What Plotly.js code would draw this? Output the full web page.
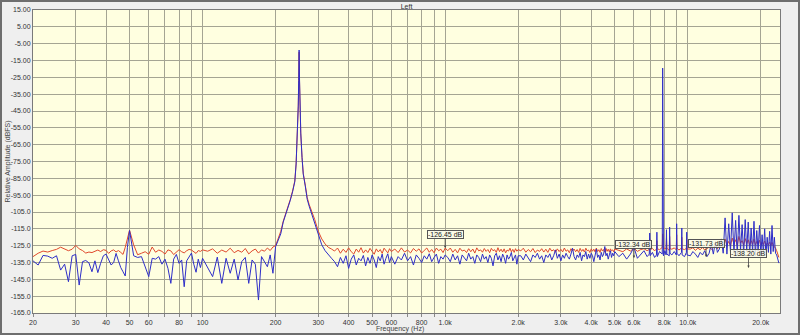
<!DOCTYPE html>
<html>
<head>
<meta charset="utf-8">
<script src="https://cdn.plot.ly/plotly-3.0.1.min.js"></script>
<style>
html,body{margin:0;padding:0;overflow:hidden;background:#efefef;}
#wrap{width:800px;height:335px;box-sizing:border-box;border:2px solid #6e6e6e;}
#chart{width:796px;height:331px;}
</style>
</head>
<body>
<div id="wrap"><div id="chart"></div></div>
<script>
// ---- Frequency grid (Hz), by band ----
const freqA = [20,21,22,23,24,25,26,27,28,29,30,31,32,33,34,35,36,37,38,39,40,41,42,43,44,45,46,47,48,49,50];
const freqB = [52,54,56,58,60,62,64,66,68,70,72,74,76,78,80,82,84,86,88,90,92,94,96,98,100];
const freqC = [105,110,115,120,125,130,135,140,145,150,155,160,165,170,175,180,185,190,195];
const freqD = [200,205,210,215,220,225,230,235,240,243,246,248,249,250,251,252,254,257,260,265,270,275,280,290,300,310,320,330,340];
const freqE = [350,360,370,380,390,400,410,420,430,440,450,460,470,480,490,500,510,520,530,540,550,560,570,580,590,600];
const freqF = [620,640,660,680,700,720,740,760,780,800,820,840,860,880,900,920,940,960,980,1000];
const freqG = [1025,1050,1075,1100,1125,1150,1175,1200,1225,1250,1275,1300,1325,1350,1375,1400,1425,1450,1475,1500,1525,1550,1575,1600,1625,1650,1675,1700,1725,1750,1775,1800,1825,1850,1875,1900,1925,1950,1975,2000];
const freqH = [2050,2100,2150,2200,2250,2300,2350,2400,2450,2500,2550,2600,2650,2700,2750,2800,2850,2900,2950,3000,3050,3100,3150,3200,3250,3300,3350,3400,3450,3500,3550,3600,3650,3700,3750,3800,3850,3900,3950,4000,4050,4100,4150,4200,4250,4300,4350,4400,4450,4500,4550,4600,4650,4700,4750,4800,4850,4900,4950,5000];
const freqI = [5200,5400,5600,5800,5950,6000,6200,6400,6600,6800,6940,6970,7000,7150,7300,7430,7460,7490,7650,7850,7880,7910,7940,8050,8140,8170,8200,8390,8420,8450,8600,8800,8970,9000,9030,9200,9420,9450,9480,9700,9870,9900,9930];
const freqJ = [10250,10500,10750,11000,11250,11500,11750,12000,12250,12500,12750,13000,13250,13500,13750,14000,14250,14500,14750,15000,15250,15500,15750,16000,16250,16500,16750,17000,17250,17500,17750,18000,18250,18500,18750,19000,19250,19500,19750,20000,20250,20500,20750,21000,21250,21500,21750,22000,22250,22500,22750,23000,23250,23500,23750];

// ---- Red trace (dBFS) ----
const redA = [-131.5,-129.5,-128.2,-128.8,-127.9,-127.2,-125.9,-126.8,-128.0,-127.1,-124.8,-126.9,-127.9,-129.4,-128.8,-129.1,-128.2,-127.6,-128.5,-127.4,-127.8,-129.6,-128.1,-127.5,-128.7,-127.9,-129.0,-130.2,-126.0,-120.5,-115.8];
const redB = [-124.5,-130.4,-129.5,-128.6,-130.1,-125.8,-128.9,-127.6,-128.4,-130.0,-127.5,-128.1,-130.3,-129.0,-127.4,-128.6,-129.3,-128.0,-127.2,-127.6,-128.8,-129.6,-127.9,-128.4,-127.5];
const redC = [-128.3,-126.9,-129.5,-127.6,-128.8,-126.5,-129.2,-127.8,-128.9,-126.7,-129.9,-128.1,-127.0,-129.4,-127.5,-128.3,-126.4,-127.9,-125.8];
const redD = [-125.0,-120.5,-116.5,-110.5,-106.5,-102.5,-97.5,-92.5,-86.5,-76.5,-60.5,-42.5,-28.5,-10.0,-27.5,-40.5,-58.5,-72.5,-82.0,-89.0,-96.5,-100.5,-103.5,-109.5,-116.5,-121.0,-124.0,-126.0,-127.0];
const redE = [-128.2,-126.4,-129.5,-127.1,-129.0,-126.3,-128.6,-130.0,-127.0,-128.9,-126.2,-129.4,-127.5,-129.1,-126.6,-128.4,-130.1,-126.9,-128.7,-127.3,-129.6,-126.5,-128.1,-129.3,-126.8,-128.5];
const redF = [-127.0,-129.1,-126.3,-128.8,-127.6,-129.3,-126.7,-128.3,-126.9,-129.4,-127.8,-126.4,-128.9,-127.3,-129.2,-126.4,-128.0,-127.1,-129.1,-126.4];
const redG = [-128.0,-126.4,-128.9,-127.2,-129.3,-126.5,-128.2,-127.6,-129.1,-126.8,-128.6,-127.0,-129.4,-126.3,-128.1,-127.5,-128.9,-126.7,-128.4,-127.3,-129.2,-126.6,-128.0,-127.4,-129.0,-126.2,-128.5,-127.1,-128.8,-126.9,-129.3,-127.6,-128.2,-126.5,-128.7,-127.2,-129.0,-126.8,-128.3,-127.3];
const redH = [-128.1,-126.5,-128.9,-127.3,-128.6,-126.7,-129.1,-127.6,-128.4,-126.8,-128.8,-127.1,-129.0,-126.5,-128.2,-127.4,-128.9,-126.9,-128.5,-127.2,-128.7,-126.4,-128.3,-127.5,-129.2,-126.8,-128.1,-127.0,-128.6,-127.3,-129.0,-126.6,-128.4,-127.2,-128.8,-126.5,-128.0,-127.6,-129.1,-126.9,-128.3,-127.1,-128.7,-126.4,-128.5,-127.4,-129.0,-126.7,-128.2,-127.3,-128.9,-126.6,-128.4,-127.1,-128.7,-126.9,-128.1,-127.5,-128.6,-127.0];
const redI = [-127.8,-128.6,-126.9,-128.2,-127.0,-126.5,-128.4,-127.3,-126.8,-128.0,-127.2,-121.0,-127.5,-126.6,-128.1,-127.0,-122.0,-126.8,-127.4,-126.0,-118.0,-125.5,-127.0,-126.4,-127.2,-120.5,-126.5,-127.8,-119.5,-126.8,-127.1,-126.3,-127.5,-118.5,-126.5,-127.6,-126.4,-120.0,-126.9,-127.3,-126.6,-121.5,-127.0];
const redJ = [-127.0,-126.2,-127.8,-126.5,-127.4,-126.1,-127.6,-126.8,-125.9,-127.2,-126.0,-125.5,-126.9,-125.2,-124.5,-125.8,-121.0,-124.6,-122.5,-125.0,-120.5,-124.0,-121.5,-124.8,-119.5,-123.5,-122.0,-124.6,-120.8,-123.8,-121.5,-124.9,-122.0,-124.2,-121.0,-124.5,-122.5,-124.0,-121.8,-124.7,-123.0,-124.3,-122.2,-124.8,-123.5,-124.5,-122.8,-125.0,-123.0,-124.8,-125.5,-126.5,-128.0,-130.5,-132.0];

// ---- Blue trace (dBFS) ----
const blueA = [-134.0,-136.5,-130.8,-131.2,-132.5,-131.0,-139.5,-136.0,-146.4,-131.0,-130.2,-148.4,-134.5,-133.8,-135.2,-140.5,-134.0,-141.0,-135.5,-131.0,-130.0,-133.0,-136.5,-135.0,-129.6,-134.0,-138.0,-140.5,-143.0,-126.0,-116.0];
const blueB = [-131.0,-132.0,-131.5,-137.5,-143.4,-132.5,-133.0,-131.5,-136.0,-133.0,-138.5,-147.4,-133.0,-130.2,-135.5,-133.5,-149.4,-134.0,-131.5,-129.4,-136.0,-140.8,-133.0,-138.0,-132.5];
const blueC = [-138.3,-143.4,-131.8,-147.4,-132.5,-141.4,-133.0,-145.4,-134.5,-132.0,-147.4,-133.5,-136.0,-157.3,-131.5,-134.5,-137.5,-130.5,-141.4];
const blueD = [-125.6,-121.5,-118.0,-111.0,-107.0,-103.0,-98.0,-93.0,-87.0,-76.5,-60.0,-42.0,-27.0,-8.8,-26.0,-40.0,-58.0,-72.5,-82.5,-89.5,-97.5,-101.5,-105.0,-111.5,-119.0,-124.5,-128.0,-130.5,-132.5];
const blueE = [-134.5,-137.5,-132.0,-135.5,-131.0,-138.5,-133.0,-130.5,-136.5,-132.5,-134.0,-130.8,-137.0,-132.0,-135.5,-130.5,-133.5,-138.0,-131.5,-134.0,-130.0,-136.0,-132.5,-129.8,-135.0,-131.5];
const blueF = [-136.0,-131.5,-133.5,-129.5,-134.0,-131.5,-136.5,-130.5,-132.5,-135.0,-131.0,-133.0,-129.8,-134.5,-132.0,-130.0,-135.5,-131.5,-133.0,-130.5];
const blueG = [-132.0,-134.5,-130.0,-133.5,-131.0,-136.0,-130.5,-132.5,-134.0,-129.5,-133.0,-131.5,-135.5,-130.5,-132.0,-134.5,-130.0,-133.0,-131.5,-135.0,-130.5,-132.5,-137.0,-131.0,-129.5,-133.5,-131.0,-134.5,-130.0,-132.0,-135.5,-130.5,-133.0,-131.5,-129.0,-134.0,-132.0,-130.5,-136.0,-131.0];
const blueH = [-131.0,-133.5,-130.0,-132.5,-134.5,-130.5,-132.0,-129.5,-133.0,-131.0,-135.0,-130.5,-132.0,-129.8,-133.5,-131.0,-127.5,-132.5,-130.0,-134.0,-130.5,-132.5,-129.5,-131.5,-133.0,-130.0,-126.5,-131.5,-133.5,-130.5,-132.0,-129.0,-134.0,-130.5,-131.5,-128.5,-133.0,-130.0,-132.5,-129.5,-131.0,-134.5,-129.5,-127.0,-132.0,-130.5,-133.5,-129.0,-131.5,-130.0,-125.5,-131.0,-129.5,-133.0,-130.5,-128.0,-132.0,-129.5,-131.0,-128.5];
const blueI = [-131.5,-129.5,-133.0,-130.0,-127.0,-126.0,-132.5,-130.5,-128.0,-131.5,-130.0,-117.5,-131.0,-129.0,-132.0,-130.5,-117.0,-131.5,-128.5,-130.0,-19.5,-70.0,-131.0,-128.0,-130.5,-115.5,-130.0,-131.0,-114.0,-129.5,-130.5,-128.5,-130.5,-112.0,-129.5,-131.0,-129.0,-114.5,-130.5,-131.5,-129.0,-117.0,-130.5];
const blueJ = [-131.0,-128.5,-130.0,-132.0,-129.0,-130.5,-128.0,-131.5,-129.5,-124.0,-130.0,-122.5,-129.0,-127.0,-121.0,-129.5,-108.5,-130.0,-112.0,-128.5,-105.5,-129.5,-110.0,-130.5,-107.0,-128.0,-112.5,-130.0,-109.5,-128.5,-111.0,-130.5,-114.5,-129.0,-110.5,-131.0,-116.0,-128.5,-113.0,-130.5,-118.5,-129.5,-115.0,-131.0,-120.0,-129.0,-116.5,-130.0,-113.0,-128.5,-120.0,-129.5,-130.5,-132.5,-135.4];

// ---- Cursor read-outs ----
const markerFreq = [1000, 6000, 11900, 17800];
const markerDb = [-126.45, -132.34, -131.73, -138.20];
const markerText = ['-126.45 dB', '-132.34 dB', '-131.73 dB', '-138.20 dB'];

// ---- Tick labels ----
const xTickVals = [20,30,40,50,60,70,80,90,100,200,300,400,500,600,700,800,900,1000,2000,3000,4000,5000,6000,7000,8000,9000,10000,20000];
const xTickText = ['20','30','40','50','60','','80','','100','200','300','400','500','600','','800','','1.0k','2.0k','3.0k','4.0k','5.0k','6.0k','','8.0k','','10.0k','20.0k'];
const yTickVals = [15,5,-5,-15,-25,-35,-45,-55,-65,-75,-85,-95,-105,-115,-125,-135,-145,-155,-165];
const yTickText = ['15.00','5.00','-5.00','-15.00','-25.00','-35.00','-45.00','-55.00','-65.00','-75.00','-85.00','-95.00','-105.0','-115.0','-125.0','-135.0','-145.0','-155.0','-165.0'];

const freq = [].concat(freqA,freqB,freqC,freqD,freqE,freqF,freqG,freqH,freqI,freqJ);
const red = [].concat(redA,redB,redC,redD,redE,redF,redG,redH,redI,redJ);
const blue = [].concat(blueA,blueB,blueC,blueD,blueE,blueF,blueG,blueH,blueI,blueJ);
if (freq.length !== red.length || freq.length !== blue.length) {
  throw new Error('length mismatch ' + freq.length + ' ' + red.length + ' ' + blue.length);
}

const traces = [
  {x: freq, y: red, type: 'scatter', mode: 'lines', line: {color: '#e0482c', width: 1}, hoverinfo: 'skip'},
  {x: freq, y: blue, type: 'scatter', mode: 'lines', line: {color: '#2e2ec8', width: 1}, hoverinfo: 'skip'}
];

const annotations = markerFreq.map((f, i) => ({
  x: Math.log10(f), y: markerDb[i], xref: 'x', yref: 'y',
  text: markerText[i], showarrow: true, arrowhead: 2, arrowsize: 0.6, arrowwidth: 0.8,
  arrowcolor: '#444', ax: 0, ay: -14,
  bgcolor: 'rgba(250,250,232,0.85)', bordercolor: '#555', borderwidth: 1, borderpad: 0,
  font: {size: 7, color: '#222', family: 'Liberation Sans, Arial, sans-serif'}
}));
annotations.push({
  text: 'Relative Amplitude (dBFS)', textangle: -90, showarrow: false,
  xref: 'paper', yref: 'paper', x: -0.0348, y: 0.5, xanchor: 'center', yanchor: 'middle',
  font: {size: 7, color: '#444'}
});
annotations.push({
  text: 'Frequency (Hz)', showarrow: false,
  xref: 'paper', yref: 'paper', x: 0.4913, y: -0.054, xanchor: 'center', yanchor: 'middle',
  font: {size: 7, color: '#444'}
});

const layout = {
  width: 796, height: 331,
  margin: {l: 31, r: 18, t: 8, b: 20, pad: 0},
  paper_bgcolor: '#efefef',
  plot_bgcolor: '#ffffe0',
  showlegend: false,
  hovermode: false,
  font: {family: 'Liberation Sans, Arial, sans-serif', size: 7, color: '#333'},
  title: {text: 'Left', x: 0.5, xref: 'paper', y: 0.985, yref: 'container', yanchor: 'middle', xanchor: 'center',
          font: {size: 7, color: '#333'}},
  xaxis: {
    type: 'log', range: [Math.log10(20), Math.log10(24000)],
    tickmode: 'array', tickvals: xTickVals, ticktext: xTickText,
    showgrid: true, gridcolor: '#a5a593', gridwidth: 1,
    ticks: 'outside', ticklen: 3, tickcolor: '#888', tickwidth: 1,
    showline: true, linecolor: '#7a7a7a', linewidth: 1, mirror: true,
    zeroline: false, tickfont: {size: 7, color: '#333'}
  },
  yaxis: {
    range: [-165, 15],
    tickmode: 'array', tickvals: yTickVals, ticktext: yTickText,
    showgrid: true, gridcolor: '#a5a593', gridwidth: 1,
    ticks: '', showline: true, linecolor: '#7a7a7a', linewidth: 1, mirror: true,
    zeroline: false, tickfont: {size: 7, color: '#333'}
  },
  annotations: annotations
};

Plotly.newPlot('chart', traces, layout, {displayModeBar: false, staticPlot: true});
</script>
</body>
</html>
